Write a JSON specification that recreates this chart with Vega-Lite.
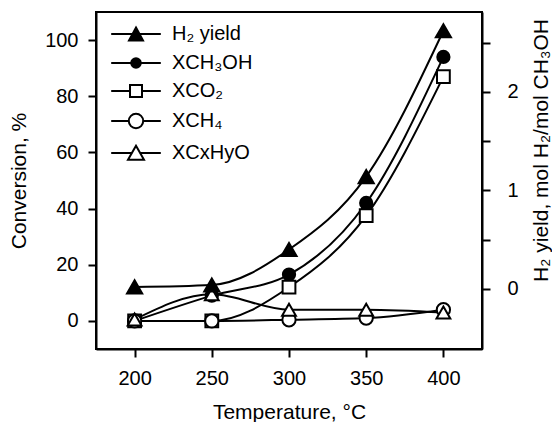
{
  "$schema": "https://vega.github.io/schema/vega-lite/v6.json",
  "width": 386,
  "height": 337,
  "padding": {"left": 8, "top": 12, "right": 0, "bottom": 0},
  "background": "white",
  "config": {
    "font": "Liberation Sans",
    "view": {"stroke": "black", "strokeWidth": 2},
    "axis": {
      "grid": false,
      "domainColor": "black",
      "domainWidth": 2,
      "tickColor": "black",
      "tickWidth": 2,
      "tickSize": 8,
      "labelColor": "black",
      "titleColor": "black",
      "labelFontSize": 20,
      "titleFontSize": 21,
      "titleFontWeight": "normal",
      "labelFont": "Liberation Sans",
      "titleFont": "Liberation Sans"
    },
    "legend": {
      "title": null,
      "orient": "none",
      "legendX": 30,
      "legendY": 12,
      "padding": 0,
      "symbolSize": 256,
      "symbolStrokeWidth": 2,
      "symbolStrokeColor": "black",
      "labelFontSize": 20,
      "labelFont": "Liberation Sans",
      "labelColor": "black",
      "labelOffset": 26,
      "rowPadding": 8
    }
  },
  "datasets": {
    "d": [
      {"series": "H₂ yield", "temp": 200, "value": 0.02},
      {"series": "H₂ yield", "temp": 250, "value": 0.04},
      {"series": "H₂ yield", "temp": 300, "value": 0.40},
      {"series": "H₂ yield", "temp": 350, "value": 1.14},
      {"series": "H₂ yield", "temp": 400, "value": 2.62},
      {"series": "XCH₃OH", "temp": 200, "value": 0},
      {"series": "XCH₃OH", "temp": 250, "value": 9},
      {"series": "XCH₃OH", "temp": 300, "value": 16.5},
      {"series": "XCH₃OH", "temp": 350, "value": 42},
      {"series": "XCH₃OH", "temp": 400, "value": 94},
      {"series": "XCO₂", "temp": 200, "value": 0},
      {"series": "XCO₂", "temp": 250, "value": 0},
      {"series": "XCO₂", "temp": 300, "value": 12},
      {"series": "XCO₂", "temp": 350, "value": 37.5},
      {"series": "XCO₂", "temp": 400, "value": 87},
      {"series": "XCH₄", "temp": 200, "value": 0},
      {"series": "XCH₄", "temp": 250, "value": 0},
      {"series": "XCH₄", "temp": 300, "value": 0.4},
      {"series": "XCH₄", "temp": 350, "value": 1},
      {"series": "XCH₄", "temp": 400, "value": 4},
      {"series": "XCxHyO", "temp": 200, "value": 0.5},
      {"series": "XCxHyO", "temp": 250, "value": 9.5},
      {"series": "XCxHyO", "temp": 300, "value": 4},
      {"series": "XCxHyO", "temp": 350, "value": 4},
      {"series": "XCxHyO", "temp": 400, "value": 3}
    ]
  },
  "data": {"name": "d"},
  "encoding": {
    "x": {
      "field": "temp",
      "type": "quantitative",
      "scale": {"domain": [175, 425], "nice": false, "zero": false},
      "axis": {"values": [200, 250, 300, 350, 400], "title": "Temperature, °C", "labelPadding": 11, "titlePadding": 13}
    }
  },
  "layer": [
    {
      "transform": [{"filter": "datum.series != 'H₂ yield'"}],
      "encoding": {
        "y": {
          "field": "value",
          "type": "quantitative",
          "scale": {"domain": [-10, 110], "nice": false, "zero": false},
          "axis": {"values": [0, 20, 40, 60, 80, 100], "title": "Conversion, %", "labelPadding": 10, "titlePadding": 15}
        }
      },
      "layer": [
        {
          "mark": {"type": "line", "interpolate": "monotone", "color": "black", "strokeWidth": 2},
          "encoding": {"detail": {"field": "series"}}
        },
        {
          "mark": {"type": "point", "filled": true, "stroke": "black", "strokeWidth": 2, "opacity": 1},
          "encoding": {
            "shape": {"field": "series", "type": "nominal", "scale": {"domain": ["XCH₃OH", "XCO₂", "XCH₄", "XCxHyO"], "range": ["circle", "square", "circle", "triangle-up"]}, "legend": null},
            "fill": {"field": "series", "type": "nominal", "scale": {"domain": ["XCH₃OH", "XCO₂", "XCH₄", "XCxHyO"], "range": ["black", "white", "white", "white"]}, "legend": null},
            "size": {"field": "series", "type": "nominal", "scale": {"domain": ["XCH₃OH", "XCO₂", "XCH₄", "XCxHyO"], "range": [150, 190, 200, 230]}, "legend": null}
          }
        }
      ]
    },
    {
      "transform": [{"filter": "datum.series == 'H₂ yield'"}],
      "encoding": {
        "y": {
          "field": "value",
          "type": "quantitative",
          "scale": {"domain": [-0.61, 2.81], "nice": false, "zero": false},
          "axis": {
            "orient": "right",
            "values": [0, 0.5, 1, 1.5, 2, 2.5],
            "labelExpr": "datum.value % 1 == 0 ? format(datum.value, 'd') : ''",
            "title": "H₂ yield, mol H₂/mol CH₃OH",
            "titleAngle": -90,
            "titleBaseline": "top",
            "titleY": 138,
            "labelPadding": 17,
            "titlePadding": 12
          }
        }
      },
      "layer": [
        {
          "mark": {"type": "line", "interpolate": "monotone", "color": "black", "strokeWidth": 2},
          "encoding": {}
        },
        {
          "mark": {"type": "point", "shape": "triangle-up", "filled": true, "fill": "black", "stroke": "black", "strokeWidth": 2, "size": 230, "opacity": 1},
          "encoding": {}
        }
      ]
    },
    {
      "transform": [{"filter": "false"}],
      "mark": {"type": "point", "filled": true, "strokeWidth": 2, "opacity": 1},
      "encoding": {
        "shape": {
          "field": "series",
          "type": "nominal",
          "scale": {
            "domain": ["H₂ yield", "XCH₃OH", "XCO₂", "XCH₄", "XCxHyO"],
            "range": [
              "M-3.1,0H-0.44M0.44,0H3.1M0,-0.8L0.875,0.8L-0.875,0.8Z",
              "M-3.1,0H-0.6M0.6,0H3.1M0.6,0A0.6,0.6,0,1,1,-0.6,0A0.6,0.6,0,1,1,0.6,0Z",
              "M-3.1,0H-0.75M0.75,0H3.1M-0.75,-0.75H0.75V0.75H-0.75Z",
              "M-3.1,0H-0.9M0.9,0H3.1M0.9,0A0.9,0.9,0,1,1,-0.9,0A0.9,0.9,0,1,1,0.9,0Z",
              "M-3.1,0H-0.51M0.51,0H3.1M0,-0.9L1,0.85L-1,0.85Z"
            ]
          }
        },
        "fill": {
          "field": "series",
          "type": "nominal",
          "scale": {"domain": ["H₂ yield", "XCH₃OH", "XCO₂", "XCH₄", "XCxHyO"], "range": ["black", "black", "white", "white", "white"]}
        },
        "stroke": {
          "field": "series",
          "type": "nominal",
          "scale": {"domain": ["H₂ yield", "XCH₃OH", "XCO₂", "XCH₄", "XCxHyO"], "range": ["black", "black", "black", "black", "black"]}
        }
      }
    }
  ],
  "resolve": {"scale": {"y": "independent", "shape": "independent", "fill": "independent", "size": "independent", "stroke": "independent"}}
}
